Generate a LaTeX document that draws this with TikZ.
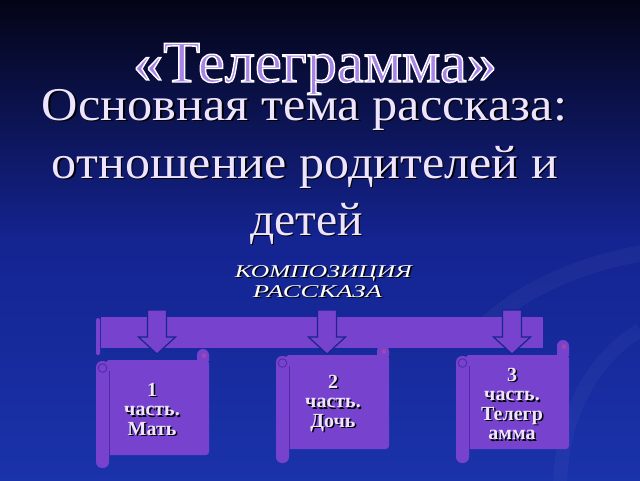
\documentclass[tikz,border=0pt]{standalone}
\usepackage{fontspec}
\setmainfont{Liberation Serif}
\usepackage{graphicx}
\usetikzlibrary{calc}
\definecolor{bgtop}{RGB}{4,4,22}
\definecolor{bgmid}{RGB}{20,36,145}
\definecolor{bgbot}{RGB}{26,50,170}
\definecolor{violet}{RGB}{118,66,206}
\definecolor{edgeblue}{RGB}{24,38,140}
\definecolor{rodedge}{RGB}{78,40,165}
\definecolor{curlin}{RGB}{165,70,170}
\definecolor{titlecol}{RGB}{168,132,232}
\definecolor{textcol}{RGB}{238,228,255}
\newcommand\StrokeOn[2]{\special{pdf:literal direct 2 Tr #1 RG #2 w}}
\newcommand\StrokeOff{\special{pdf:literal direct 0 Tr}}
\tikzset{
  titletext/.style={anchor=base, inner sep=0, text=titlecol, font=\fontsize{59}{59}\selectfont},
  maintext/.style={anchor=base, inner sep=0, text=textcol, font=\fontsize{47}{47}\selectfont},
  subtext/.style={anchor=base, inner sep=0, text=white, font=\itshape\fontsize{18}{18}\selectfont},
  boxtext/.style={inner sep=0, align=center, text=textcol, font=\bfseries\fontsize{20}{19.5}\selectfont},
  shadowed/.style={text=black, xshift=1.5pt, yshift=-1.5pt},
  barstyle/.style={fill=violet, inner sep=0, minimum width=442pt, minimum height=31pt},
  blockarrow/.style={fill=violet, draw=edgeblue, line width=1.2pt, line join=miter},
}
\newcommand\DrawScroll[6]{%
  \fill[violet, rounded corners=3pt] (#1+10,#2) -- (#3,#2) -- (#3,#4) -- (#1+10,#4) -- cycle;
  \fill[violet] (#3-12,#2+1) -- (#3-12,#6+5) arc[start angle=180,end angle=360,radius=6] -- (#3,#2+1) -- cycle;
  \fill[curlin] (#3-5,#6+5.5) circle (2.4);
  \fill[violet, rounded corners=6pt] (#1,#2+1) rectangle (#1+13,#5);
  \draw[rodedge, line width=0.8pt] (#1+13,#2+11) -- (#1+13,#4);
  \draw[rodedge, line width=0.8pt] (#1+6.5,#2+8) circle (4.3);
}
\newcommand\BlockArr[2]{%
  \draw[blockarrow] ($(#1)+(-9.5,0)$) -- ($(#1)+(9.5,0)$) -- ($(#2)+(9.5,-17)$) -- ($(#2)+(18.5,-17)$) -- (#2) -- ($(#2)+(-18.5,-17)$) -- ($(#2)+(-9.5,-17)$) -- cycle;}
\begin{document}
\begin{tikzpicture}[x=1pt,y=-1pt]
\useasboundingbox (0,0) rectangle (640,480);
\shade[top color=bgtop, bottom color=bgmid] (0,0) rectangle (640,240.5);
\shade[top color=bgmid, bottom color=bgbot] (0,240) rectangle (640,480);
% faint swooshes
\draw[white, opacity=0.035, line width=16pt] (660,250) .. controls (580,262) and (520,290) .. (480,330);
\draw[white, opacity=0.03, line width=14pt] (640,330) .. controls (590,360) and (560,420) .. (560,490);

% title
\node[titletext] (title) at (315,82) {\resizebox{364pt}{\height}{\StrokeOn{1 1 1}{1.4}«Телеграмма»\StrokeOff}};

% main lines
\node[maintext, shadowed] (l2s) at (304.5,120) {\resizebox{525pt}{\height}{Основная тема рассказа:}};
\node[maintext] (l2) at (304.5,120) {\resizebox{525pt}{\height}{Основная тема рассказа:}};
\node[maintext, shadowed] (l3s) at (305,178) {\resizebox{506pt}{\height}{отношение родителей и}};
\node[maintext] (l3) at (305,178) {\resizebox{506pt}{\height}{отношение родителей и}};
\node[maintext, shadowed] (l4s) at (306.5,235) {\resizebox{113pt}{\height}{детей}};
\node[maintext] (l4) at (306.5,235) {\resizebox{113pt}{\height}{детей}};

% subtitle
\node[subtext, shadowed] (k1s) at (323.5,277) {\resizebox{177pt}{\height}{КОМПОЗИЦИЯ}};
\node[subtext] (k1) at (323.5,277) {\resizebox{177pt}{\height}{КОМПОЗИЦИЯ}};
\node[subtext, shadowed] (k2s) at (317.5,297) {\resizebox{129pt}{\height}{РАССКАЗА}};
\node[subtext] (k2) at (317.5,297) {\resizebox{129pt}{\height}{РАССКАЗА}};

% bar
\fill[violet, rounded corners=1.5pt] (96,318) rectangle (100,355);
\node[barstyle] (bar) at (322,332.5) {};

% scrolls
\DrawScroll{96}{360}{209}{455}{468}{350}
\DrawScroll{276}{355}{389}{449}{463}{346}
\DrawScroll{456}{355}{569}{449}{463}{341}

% arrows
\coordinate (a1top) at (157,310);
\coordinate (a1tip) at (157,354);
\coordinate (a2top) at (327,310);
\coordinate (a2tip) at (327,354);
\coordinate (a3top) at (512,310);
\coordinate (a3tip) at (512,354);
\BlockArr{a1top}{a1tip}
\BlockArr{a2top}{a2tip}
\BlockArr{a3top}{a3tip}

% scroll texts
\node[boxtext, shadowed] (s1s) at (152,409) {1\\часть.\\Мать};
\node[boxtext] (s1) at (152,409) {1\\часть.\\Мать};
\node[boxtext, shadowed] (s2s) at (333,403.5) {2\\часть.\\Дочь};
\node[boxtext] (s2) at (333,403.5) {2\\часть.\\Дочь};
\node[boxtext, shadowed] (s3s) at (512,404) {3\\часть.\\Телегр\\амма};
\node[boxtext] (s3) at (512,404) {3\\часть.\\Телегр\\амма};
\end{tikzpicture}
\end{document}
